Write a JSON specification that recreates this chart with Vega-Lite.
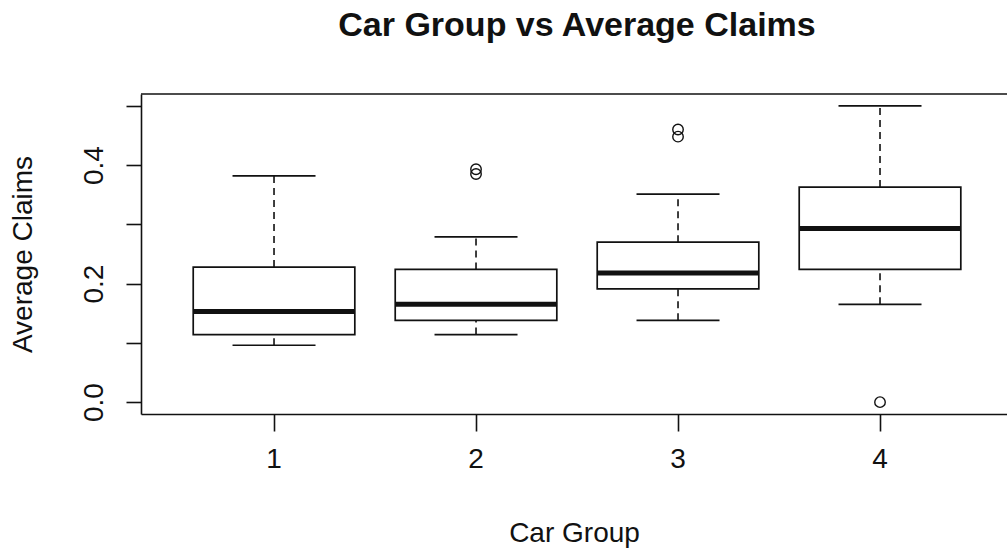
{
  "$schema": "https://vega.github.io/schema/vega-lite/v6.json",
  "autosize": {"type": "none"},
  "padding": {"left": 141, "top": 94, "right": 0, "bottom": 136},
  "width": 866,
  "height": 320,
  "background": "white",
  "config": {
    "view": {"stroke": null},
    "font": "Liberation Sans",
    "axis": {"grid": false, "domainColor": "#111", "tickColor": "#111", "labelColor": "#111", "titleColor": "#111", "domainWidth": 1.6, "tickWidth": 1.6}
  },
  "title": {
    "text": "Car Group vs Average Claims",
    "font": "Liberation Sans",
    "fontSize": 34,
    "fontWeight": "bold",
    "color": "#111",
    "anchor": "middle",
    "baseline": "alphabetic",
    "offset": 23,
    "dx": 3
  },
  "datasets": {
    "boxes": [
      {"group": "1", "lower": 0.096, "q1": 0.114, "median": 0.153, "q3": 0.228, "upper": 0.382},
      {"group": "2", "lower": 0.114, "q1": 0.138, "median": 0.165, "q3": 0.224, "upper": 0.279},
      {"group": "3", "lower": 0.138, "q1": 0.191, "median": 0.218, "q3": 0.270, "upper": 0.351},
      {"group": "4", "lower": 0.165, "q1": 0.224, "median": 0.293, "q3": 0.363, "upper": 0.500}
    ],
    "outliers": [
      {"group": "2", "value": 0.385},
      {"group": "2", "value": 0.393},
      {"group": "3", "value": 0.448},
      {"group": "3", "value": 0.460},
      {"group": "4", "value": 0.0}
    ]
  },
  "layer": [
    {
      "data": {"name": "boxes"},
      "mark": {"type": "rule", "color": "#111", "strokeWidth": 1.6, "strokeDash": [7, 5]},
      "encoding": {
        "x": {
          "field": "group",
          "type": "nominal",
          "scale": {"type": "band", "paddingInner": 0, "paddingOuter": 0.1436, "align": 0.552},
          "axis": {
            "title": "Car Group",
            "labelAngle": 0,
            "labelFontSize": 28,
            "labelFont": "Liberation Sans",
            "tickSize": 17,
            "labelPadding": 14,
            "titleFontSize": 28,
            "titleFontWeight": "normal",
            "titlePadding": 46
          }
        },
        "y": {
          "field": "q3",
          "type": "quantitative",
          "scale": {"domain": [-0.02, 0.52], "nice": false, "zero": false},
          "axis": {
            "title": "Average Claims",
            "values": [0, 0.1, 0.2, 0.3, 0.4, 0.5],
            "labelExpr": "(datum.value == 0 || datum.value == 0.2 || datum.value == 0.4) ? format(datum.value, '.1f') : ''",
            "labelAngle": -90,
            "labelAlign": "center",
            "labelBaseline": "alphabetic",
            "labelFontSize": 28,
            "tickSize": 15,
            "labelPadding": 24,
            "titleFontSize": 28,
            "titleFontWeight": "normal",
            "titlePadding": 43
          }
        },
        "y2": {"field": "upper"}
      }
    },
    {
      "data": {"name": "boxes"},
      "mark": {"type": "rule", "color": "#111", "strokeWidth": 1.6, "strokeDash": [7, 5]},
      "encoding": {
        "x": {"field": "group", "type": "nominal"},
        "y": {"field": "lower", "type": "quantitative"},
        "y2": {"field": "q1"}
      }
    },
    {
      "data": {"name": "boxes"},
      "mark": {"type": "bar", "fill": "white", "stroke": "#111", "strokeWidth": 1.7, "width": {"band": 0.8}},
      "encoding": {
        "x": {"field": "group", "type": "nominal"},
        "y": {"field": "q1", "type": "quantitative"},
        "y2": {"field": "q3"}
      }
    },
    {
      "data": {"name": "boxes"},
      "mark": {"type": "tick", "color": "#111", "opacity": 1, "orient": "horizontal", "size": 162, "thickness": 5},
      "encoding": {
        "x": {"field": "group", "type": "nominal"},
        "y": {"field": "median", "type": "quantitative"}
      }
    },
    {
      "data": {"name": "boxes"},
      "mark": {"type": "tick", "color": "#111", "opacity": 1, "orient": "horizontal", "size": 83, "thickness": 1.7},
      "encoding": {
        "x": {"field": "group", "type": "nominal"},
        "y": {"field": "upper", "type": "quantitative"}
      }
    },
    {
      "data": {"name": "boxes"},
      "mark": {"type": "tick", "color": "#111", "opacity": 1, "orient": "horizontal", "size": 83, "thickness": 1.7},
      "encoding": {
        "x": {"field": "group", "type": "nominal"},
        "y": {"field": "lower", "type": "quantitative"}
      }
    },
    {
      "data": {"name": "outliers"},
      "mark": {"type": "point", "shape": "circle", "filled": false, "stroke": "#111", "strokeWidth": 1.4, "size": 110, "opacity": 1},
      "encoding": {
        "x": {"field": "group", "type": "nominal"},
        "y": {"field": "value", "type": "quantitative"}
      }
    },
    {
      "data": {"values": [{"top": 0.52}]},
      "mark": {"type": "rule", "color": "#111", "strokeWidth": 1.6},
      "encoding": {
        "y": {"field": "top", "type": "quantitative"}
      }
    }
  ]
}
